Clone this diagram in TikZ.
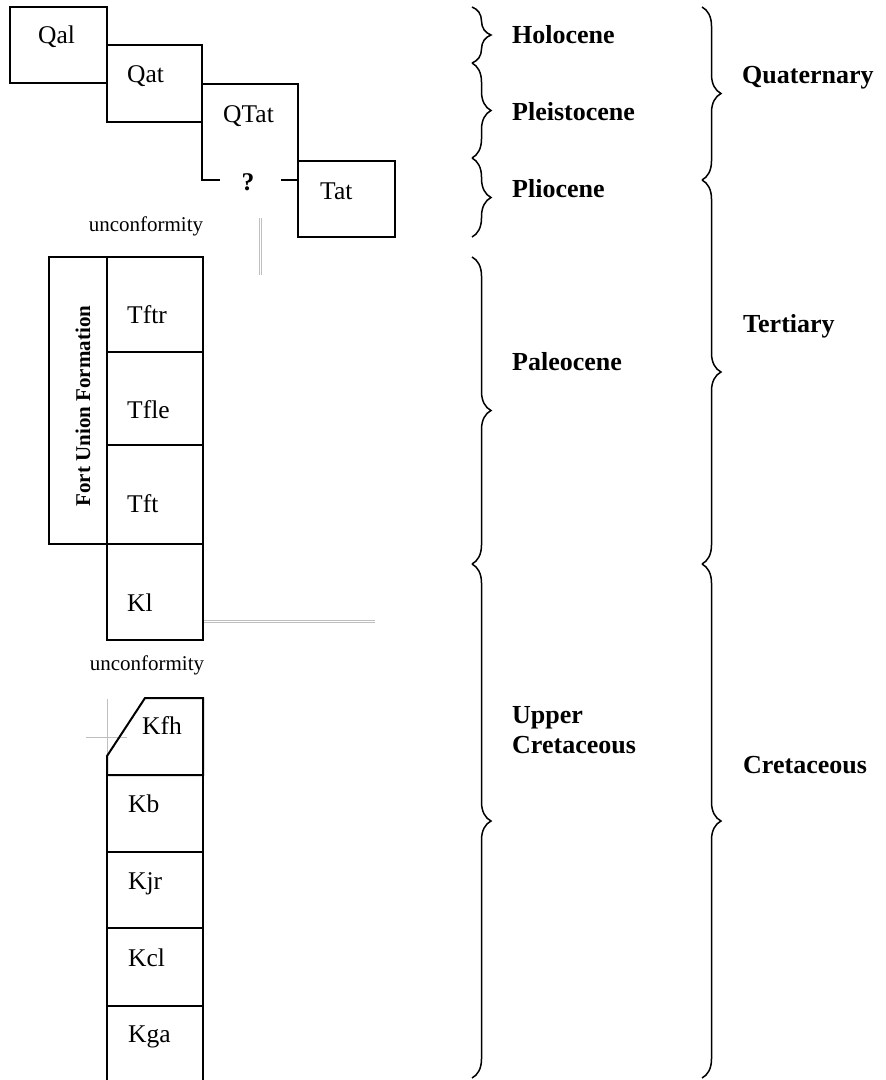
\documentclass[tikz,border=0pt]{standalone}
\usepackage{fontspec}
\setmainfont{Liberation Serif}
\usetikzlibrary{decorations.pathreplacing}

\begin{document}
\begin{tikzpicture}[x=1pt, y=-1pt,
    unit/.style={draw, line width=2pt, inner sep=0pt, outer sep=0pt, anchor=north west},
    edge/.style={line width=2pt},
    txt/.style={anchor=base west, inner sep=0pt, font=\fontsize{25.5}{30}\selectfont},
    small/.style={anchor=base, inner sep=0pt, font=\fontsize{21}{25}\selectfont},
    era/.style={anchor=base west, inner sep=0pt, align=left, font=\fontsize{26}{30}\selectfont\bfseries},
    brc/.style={decorate, decoration={brace, amplitude=19pt}, line width=1.5pt},
    ghost/.style={draw=black!25, line width=0.7pt}]

\useasboundingbox (0,0) rectangle (886,1080);

% Quaternary and Pliocene units
\node[unit, minimum width=97, minimum height=76] (qal) at (10,7) {};
\node[unit, minimum width=95, minimum height=77] (qat) at (107,45) {};
\node[unit, minimum width=97, minimum height=76] (tat) at (298,161) {};
\draw[edge] (202,84) -- (298,84) -- (tat.north west);
\draw[edge] (qat.south east) |- (220,180);
\draw[edge] (281,180) -- (298,180);

\node[txt] (qal-t) at (38,43) {Qal};
\node[txt] (qat-t) at (127,82) {Qat};
\node[txt] (qtat-t) at (223,122) {QTat};
\node[txt] (tat-t) at (320,199) {Tat};
\node[inner sep=0pt, font=\fontsize{25.5}{30}\selectfont\bfseries] (qm) at (248,182) {?};

\node[small] (unc1) at (146,231) {unconformity};
\draw[ghost] (259,218) -- (259,275) (261.5,218) -- (261.5,275);

% Fort Union Formation
\node[unit, minimum width=58, minimum height=287] (fu) at (49,257) {};
\node[rotate=90, inner sep=0pt, font=\fontsize{21}{25}\selectfont\bfseries] (fu-t) at (83,406) {Fort Union Formation};
\node[unit, minimum width=96, minimum height=95] (tftr) at (107,257) {};
\node[unit, minimum width=96, minimum height=93] (tfle) at (107,352) {};
\node[unit, minimum width=96, minimum height=99] (tft) at (107,445) {};
\node[unit, minimum width=96, minimum height=96] (kl) at (107,544) {};
\node[txt] (tftr-t) at (127,323) {Tftr};
\node[txt] (tfle-t) at (127,418) {Tfle};
\node[txt] (tft-t) at (127,512) {Tft};
\node[txt] (kl-t) at (127,611) {Kl};
\draw[ghost] (204,620) -- (375,620) (204,622.5) -- (375,622.5);

\node[small] (unc2) at (147,670) {unconformity};

% Upper Cretaceous units
\draw[ghost] (107,699) -- (107,756) (86,737) -- (127,737);
\draw[edge] (145,698) -- (203,698) -- (203,775) -- (107,775) -- (107,756) -- cycle;
\node[unit, minimum width=96, minimum height=77] (kb) at (107,775) {};
\node[unit, minimum width=96, minimum height=76] (kjr) at (107,852) {};
\node[unit, minimum width=96, minimum height=78] (kcl) at (107,928) {};
\draw[edge] (107,1082) |- (203,1006) -- (203,1082);
\node[txt] (kfh-t) at (142,734) {Kfh};
\node[txt] (kb-t) at (128,812) {Kb};
\node[txt] (kjr-t) at (128,889) {Kjr};
\node[txt] (kcl-t) at (128,966) {Kcl};
\node[txt] (kga-t) at (128,1042) {Kga};

% epochs and periods
\foreach \a/\b in {7/63, 63/158, 158/237, 257/564, 564/1078}
    \draw[brc] (472,\a) -- (472,\b);
\foreach \a/\b in {7/180, 180/564, 564/1078}
    \draw[brc] (702,\a) -- (702,\b);

\node[era] (holo) at (512,43) {Holocene};
\node[era] (pleis) at (512,120) {Pleistocene};
\node[era] (plio) at (512,197) {Pliocene};
\node[era] (paleo) at (512,370) {Paleocene};
\node[era] (ucret) at (512,753) {Upper\\Cretaceous};
\node[era] (quat) at (742,83) {Quaternary};
\node[era] (tert) at (743,332) {Tertiary};
\node[era] (cret) at (743,773) {Cretaceous};
\end{tikzpicture}
\end{document}
